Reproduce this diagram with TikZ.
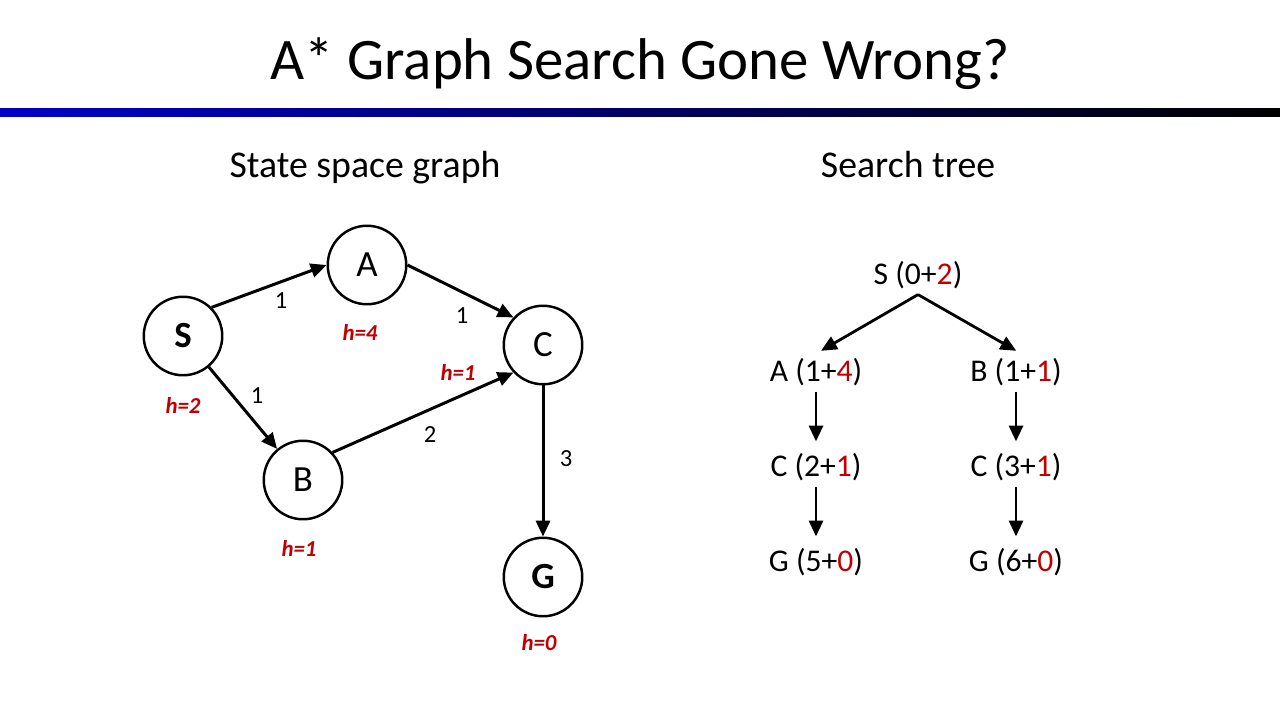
\documentclass[tikz,border=0pt]{standalone}
\usepackage{fontspec}
\setmainfont{Carlito}
\usetikzlibrary{arrows.meta}
\definecolor{hred}{RGB}{192,0,0}
\definecolor{barblue}{RGB}{0,0,200}
\newcommand{\hv}[1]{\textcolor{hred}{#1}}
\begin{document}
\begin{tikzpicture}[x=0.02cm,y=-0.02cm,
  every node/.style={font=\fontsize{18}{22}\selectfont},
  state/.style={circle,draw,line width=1.4pt,minimum size=1.57cm,inner sep=0pt,font=\fontsize{21}{25}\selectfont},
  heur/.style={text=hred,font=\fontsize{13}{16}\selectfont\bfseries\itshape},
  cost/.style={font=\fontsize{14}{17}\selectfont},
  edge/.style={line width=1.7pt,-{Triangle[length=9pt,width=8pt]}},
  tedge/.style={line width=1.6pt,-{Triangle[length=9pt,width=8pt]}}]
  \useasboundingbox (0,0) rectangle (1280,720);
  % title and rule
  \node[font=\fontsize{33.5}{40}\selectfont,anchor=base] (title) at (640,79) {A* Graph Search Gone Wrong?};
  \shade[left color=barblue,right color=black] (0,108) rectangle (1280,116);
  % state space graph
  \node[font=\fontsize{21.5}{26}\selectfont,anchor=base] (gtitle) at (365,177) {State space graph};
  \node[state] (s) at (183,336) {\textbf{S}};
  \node[state] (a) at (367,265) {A};
  \node[state] (b) at (303,480) {B};
  \node[state] (c) at (543,345) {C};
  \node[state] (g) at (543,577) {\textbf{G}};
  \draw[edge] (s.45) -- (a.west);
  \draw[edge] (s) -- (b);
  \draw[edge] (a.east) -- (c.137);
  \draw[edge] (b.43) -- (c.223);
  \draw[edge] (c) -- (g);
  \node[cost] (csa) at (281,301) {1};
  \node[cost] (csb) at (257,396) {1};
  \node[cost] (cac) at (462,316) {1};
  \node[cost] (cbc) at (430,435) {2};
  \node[cost] (ccg) at (566,459) {3};
  \node[heur] (hs) at (183,405) {h=2};
  \node[heur] (ha) at (360,332) {h=4};
  \node[heur] (hc) at (458,372) {h=1};
  \node[heur] (hb) at (299,548) {h=1};
  \node[heur] (hg) at (539,643) {h=0};
  % search tree
  \node[font=\fontsize{21.5}{26}\selectfont,anchor=base] (ttitle) at (908,177) {Search tree};
  \node[anchor=base] (ts) at (918,284) {S (0+\hv{2})};
  \node[anchor=base] (ta) at (816,381) {A (1+\hv{4})};
  \node[anchor=base] (tb) at (1016,381) {B (1+\hv{1})};
  \node[anchor=base] (tc1) at (816,476) {C (2+\hv{1})};
  \node[anchor=base] (tc2) at (1016,476) {C (3+\hv{1})};
  \node[anchor=base] (tg1) at (816,571) {G (5+\hv{0})};
  \node[anchor=base] (tg2) at (1016,571) {G (6+\hv{0})};
  \draw[tedge,shorten >=1pt] (ts.south) -- ([xshift=2pt]ta.north);
  \draw[tedge,shorten >=1pt] (ts.south) -- ([xshift=1pt]tb.north);
  \draw[tedge,shorten >=3pt] (ta) -- (tc1);
  \draw[tedge,shorten >=3pt] (tc1) -- (tg1);
  \draw[tedge,shorten >=3pt] (tb) -- (tc2);
  \draw[tedge,shorten >=3pt] (tc2) -- (tg2);
\end{tikzpicture}
\end{document}
